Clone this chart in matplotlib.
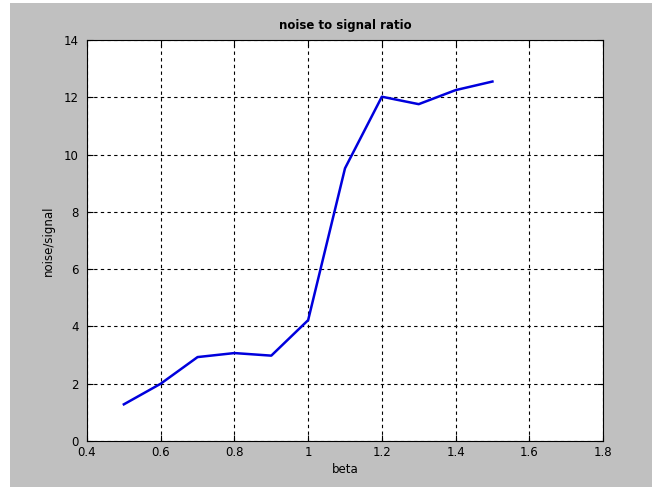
import numpy as np
import matplotlib.pyplot as plt
from matplotlib.patches import Rectangle

# values
beta = [0.5, 0.6, 0.7, 0.8, 0.9, 1.0, 1.1, 1.2, 1.3, 1.4, 1.5]
noise_signal = [1.28, 2.0, 2.93, 3.07, 2.98, 4.22, 9.52, 12.02, 11.76, 12.25, 12.55]
xticks = [0.4, 0.6, 0.8, 1.0, 1.2, 1.4, 1.6, 1.8]
xticklabels = ["0.4", "0.6", "0.8", "1", "1.2", "1.4", "1.6", "1.8"]
yticks = [0, 2, 4, 6, 8, 10, 12, 14]

fig = plt.figure(figsize=(6.52, 4.92), dpi=100, facecolor="#c0c0c0")
# white strips at the edges of the screenshot
for rect in [(0, 0, 10 / 652, 1), (0, 1 - 3 / 492, 1, 3 / 492), (0, 0, 1, 5 / 492)]:
    fig.patches.append(Rectangle(rect[:2], rect[2], rect[3], transform=fig.transFigure,
                                 facecolor="white", edgecolor="none", zorder=-1))

ax = fig.add_axes([87 / 652, 51 / 492, 516 / 652, 401 / 492])
ax.plot(beta, noise_signal, color="#0000dd", linewidth=1.8)

ax.set_xlim(0.4, 1.8)
ax.set_ylim(0, 14)
ax.set_xticks(xticks)
ax.set_xticklabels(xticklabels)
ax.set_yticks(yticks)
ax.tick_params(direction="in", top=True, right=True, length=4, labelsize=8.5)
ax.tick_params(axis="y", pad=6)
ax.grid(True, color="black", linestyle=(0, (3, 3)), linewidth=0.8)
for s in ax.spines.values():
    s.set_linewidth(0.8)

ax.set_xlabel("beta", fontsize=8.5, labelpad=3)
ax.set_ylabel("noise/signal", fontsize=8.5, labelpad=6)
ax.set_title("noise to signal ratio", fontsize=8.5, fontweight="bold", pad=8)

plt.savefig("out.png", dpi=100, facecolor=fig.get_facecolor())
